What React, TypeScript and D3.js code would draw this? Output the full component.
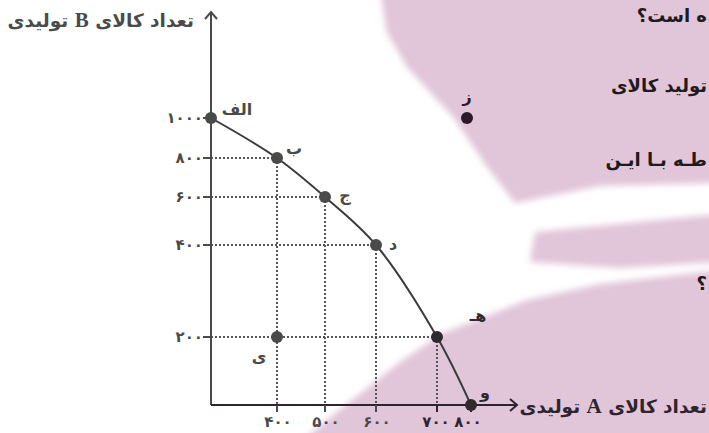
import React from 'react';
import * as d3 from 'd3';

// production possibilities: amount of good A vs good B
const pointNames = ['الف', 'ب', 'ج', 'د', 'هـ', 'و'];
const goodA = [0, 400, 500, 600, 700, 800];
const goodB = [1000, 800, 600, 400, 200, 0];

// points off the frontier
const insidePoint = { name: 'ی', a: 400, b: 200 };
const outsidePoint = { name: 'ز', a: 800, b: 1000 };

const xTicks = [400, 500, 600, 700, 800];
const yTicks = [200, 400, 600, 800, 1000];

// fragments of the question text cut off on the right
const sideText = ['ه است؟', 'تولید کالای', 'طـه بـا ایـن', '؟'];
const sideTextY = [22, 92, 166, 290];

const W = 709;
const H = 433;
const FONT = '"DejaVu Sans", sans-serif';
const SERIF = '"Liberation Serif", serif';
const GRAY = '#4a4a4a';
const DARK = '#2e2430';

if (typeof document !== 'undefined') document.body.style.margin = '0';

const faDigits = '۰۱۲۳۴۵۶۷۸۹';
const toFa = (n: number) => String(n).replace(/\d/g, (d) => faDigits[+d]);

// label offsets from each point (dx, dy)
const labelOffset: Record<string, [number, number]> = {
  'الف': [26, -9],
  'ب': [17, -10],
  'ج': [20, -2],
  'د': [17, -1],
  'هـ': [41, -22],
  'و': [14, -13],
  'ی': [-18, 19],
  'ز': [0, -22],
};

export default function App() {
  // the drawing uses uneven spacing on both axes
  const x = d3.scaleLinear().domain([0, 400, 500, 600, 700, 800]).range([211, 277, 325, 376, 437, 471]);
  const y = d3.scaleLinear().domain([0, 200, 400, 600, 800, 1000]).range([405, 337, 245, 197, 158, 118]);

  const pts = goodA.map((a, i) => ({ name: pointNames[i], a, b: goodB[i] }));
  const line = d3.line<{ a: number; b: number }>()
    .x(d => x(d.a))
    .y(d => y(d.b))
    .curve(d3.curveCatmullRom.alpha(0.5));

  const x0 = x(0);
  const y0 = y(0);
  const guides = pts.filter(p => p.a > 0 && p.b > 0);

  const label = (name: string, px: number, py: number, color: string) => {
    const [dx, dy] = labelOffset[name];
    return (
      <text key={'l' + name} x={px + dx} y={py + dy} textAnchor="middle" dominantBaseline="central"
        fontFamily={FONT} fontWeight="bold" fontSize={16} fill={color}>{name}</text>
    );
  };

  return (
    <svg width={W} height={H} style={{ display: 'block' }}>
      <defs>
        <filter id="soft" x="-10%" y="-10%" width="120%" height="120%">
          <feGaussianBlur stdDeviation="3" />
        </filter>
      </defs>
      <rect width={W} height={H} fill="#ffffff" />
      <g fill="#e1c5d9" filter="url(#soft)">
        <path d="M380,-10 L720,-10 L720,183 L600,186 L515,203 L487,167 L453,117 L407,67 L387,33 Z" />
        <path d="M535,232 L720,214 L720,262 L620,268 L530,262 Z" />
        <path d="M720,270 L600,284 L527,300 L443,333 L400,362 L327,420 L298,445 L720,445 Z" />
      </g>

      {/* dotted guides */}
      <g stroke="#555" strokeWidth={2} strokeDasharray="2,2" fill="none">
        {guides.map(p => (
          <g key={'g' + p.name}>
            <line x1={x0} x2={x(p.a)} y1={y(p.b)} y2={y(p.b)} />
            <line x1={x(p.a)} x2={x(p.a)} y1={y(p.b)} y2={y0} />
          </g>
        ))}
      </g>

      {/* axes */}
      <g stroke={GRAY} strokeWidth={2} fill="none">
        <line x1={x0} x2={x0} y1={y0} y2={12} />
        <path d="M205,19 L211,12 L217,19" />
        <line x1={x0} x2={517} y1={y0} y2={y0} stroke={DARK} />
        <path d="M510,399 L517,405 L510,411" stroke={DARK} />
        {yTicks.map(t => <line key={'yt' + t} x1={x0 - 8} x2={x0} y1={y(t)} y2={y(t)} />)}
        {xTicks.map(t => <line key={'xt' + t} x1={x(t)} x2={x(t)} y1={y0} y2={y0 + 7} stroke={t >= 700 ? DARK : GRAY} />)}
      </g>

      {yTicks.map(t => (
        <text key={'yl' + t} x={x0 - 8} y={y(t)} textAnchor="end" dominantBaseline="central"
          fontFamily={FONT} fontWeight="bold" fontSize={15} fill={GRAY}>{toFa(t)}</text>
      ))}
      {xTicks.map(t => (
        <text key={'xl' + t} x={x(t) - (t === 800 ? 3 : t === 700 ? 1 : -1)} y={422} textAnchor="middle" dominantBaseline="central"
          fontFamily={FONT} fontWeight="bold" fontSize={15} fill={t >= 700 ? DARK : GRAY}>{toFa(t)}</text>
      ))}

      {/* frontier */}
      <path d={line(pts) || ''} fill="none" stroke="#3a3a3a" strokeWidth={2} />
      {pts.map(p => (
        <circle key={'c' + p.name} cx={x(p.a)} cy={y(p.b)} r={6} fill={p.b <= 200 ? '#2f2a2e' : GRAY} />
      ))}
      {pts.map(p => label(p.name, x(p.a), y(p.b), p.b <= 200 ? '#2f2a2e' : GRAY))}

      <circle cx={x(insidePoint.a)} cy={y(insidePoint.b)} r={6} fill={GRAY} />
      {label(insidePoint.name, x(insidePoint.a), y(insidePoint.b), GRAY)}
      <circle cx={x(outsidePoint.a) - 4} cy={y(outsidePoint.b)} r={6} fill="#2b1a26" />
      {label(outsidePoint.name, x(outsidePoint.a) - 4, y(outsidePoint.b), '#2b1a26')}

      {/* axis titles */}
      <text x={194} y={20} direction="rtl" textAnchor="start" dominantBaseline="central"
        fontFamily={FONT} fontWeight="bold" fontSize={18.5} fill={GRAY}>
        تعداد کالای <tspan fontFamily={SERIF} fontSize={21}>B</tspan> تولیدی
      </text>
      <text x={707} y={406} direction="rtl" textAnchor="start" dominantBaseline="central"
        fontFamily={FONT} fontWeight="bold" fontSize={18.5} fill={DARK}>
        تعداد کالای <tspan fontFamily={SERIF} fontSize={21}>A</tspan> تولیدی
      </text>

      {sideText.map((s, i) => (
        <text key={s} x={707} y={sideTextY[i]} direction="rtl" textAnchor="start"
          fontFamily={FONT} fontWeight="bold" fontSize={18} fill="#1f1a1e">{s}</text>
      ))}
    </svg>
  );
}
